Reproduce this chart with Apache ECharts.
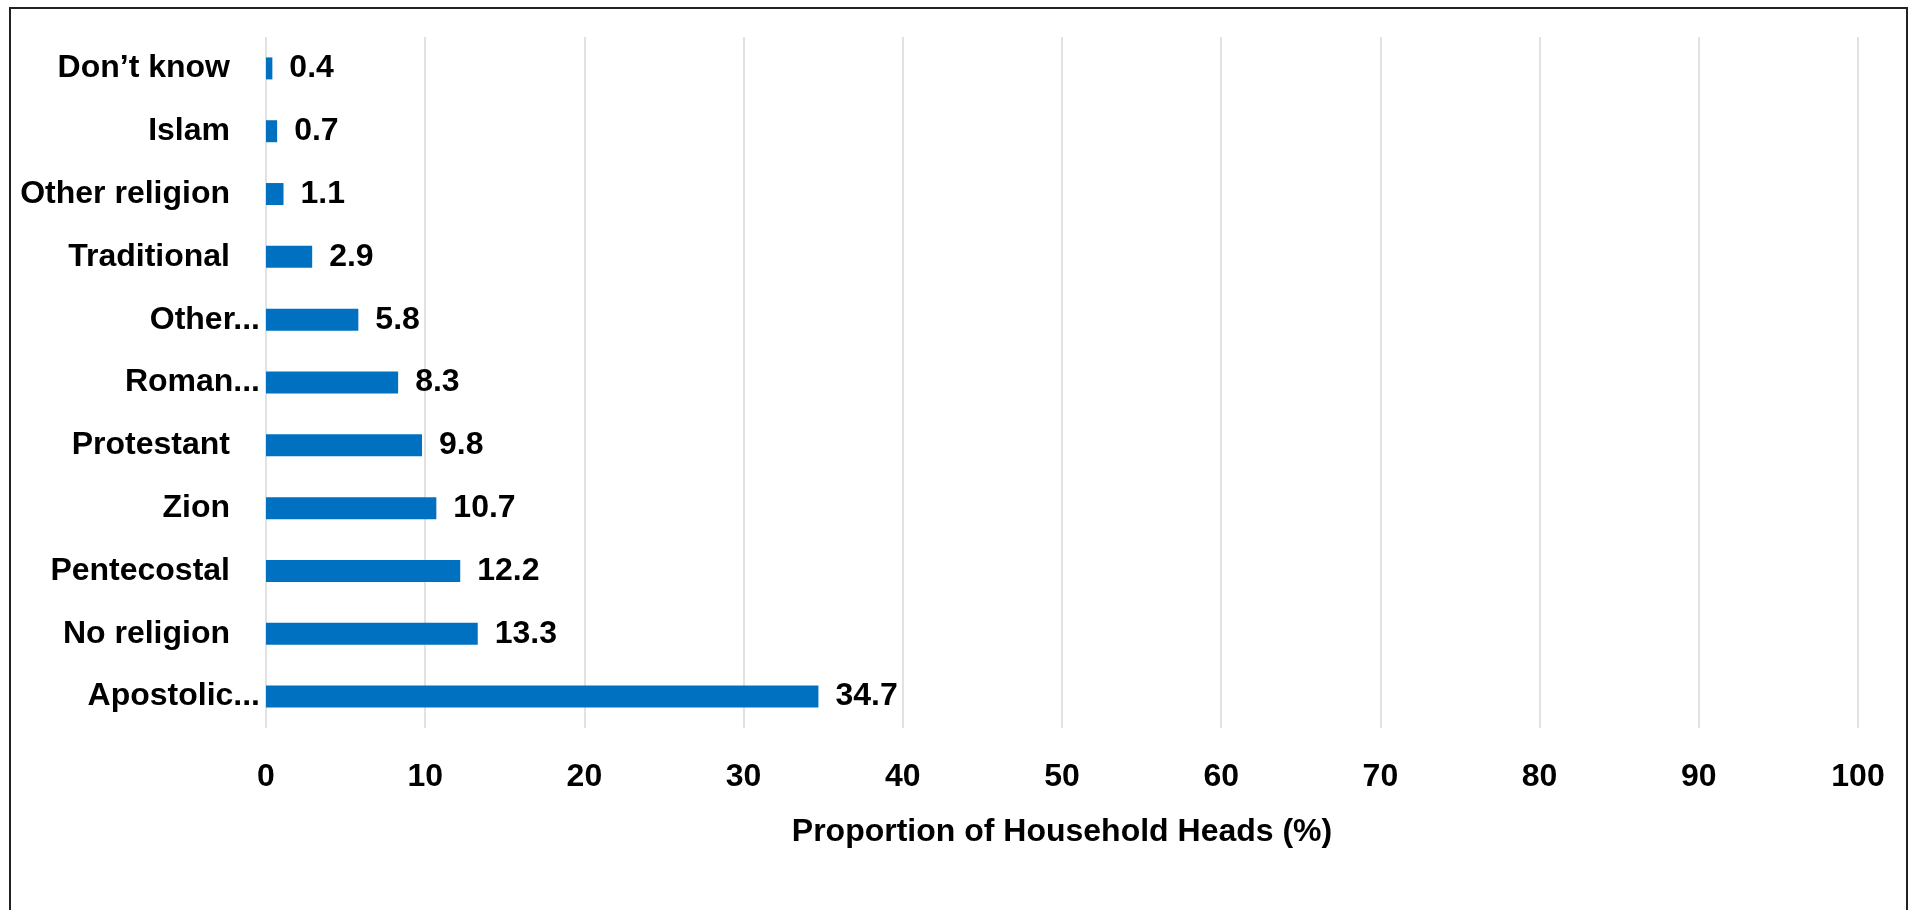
<!DOCTYPE html>
<html>
<head>
<meta charset="utf-8">
<title>Religion of Household Heads</title>
<script src="https://cdn.jsdelivr.net/npm/echarts@6/dist/echarts.min.js"></script>
<style>
  html, body { margin: 0; padding: 0; background: #ffffff; }
  #chart { width: 1915px; height: 910px; }
</style>
</head>
<body>
<div id="chart"></div>
<script>
// Religion of household heads, listed from the bottom bar upward
const categories = [
  'Apostolic...', 'No religion', 'Pentecostal', 'Zion', 'Protestant',
  'Roman...', 'Other...', 'Traditional', 'Other religion', 'Islam', 'Don\u2019t know'
];
const shares = [34.7, 13.3, 12.2, 10.7, 9.8, 8.3, 5.8, 2.9, 1.1, 0.7, 0.4];
const xTicks = [0, 10, 20, 30, 40, 50, 60, 70, 80, 90, 100];

const FONT = '"Liberation Sans", Arial, sans-serif';

const chart = echarts.init(document.getElementById('chart'), null, { renderer: 'canvas' });

chart.setOption({
  backgroundColor: '#ffffff',
  animation: false,
  graphic: [{
    type: 'rect',
    shape: { x: 10, y: 8, width: 1897, height: 1000 },
    style: { fill: 'none', stroke: '#222222', lineWidth: 2 },
    silent: true,
    z: 10
  }],
  grid: { left: 266, right: 57, top: 37, bottom: 182, containLabel: false },
  xAxis: {
    type: 'value',
    min: xTicks[0],
    max: xTicks[xTicks.length - 1],
    interval: 10,
    name: 'Proportion of Household Heads (%)',
    nameLocation: 'middle',
    nameGap: 88,
    nameTextStyle: { fontFamily: FONT, fontWeight: 'bold', fontSize: 32, color: '#000' },
    axisLine: { show: false },
    axisTick: { show: false },
    axisLabel: { fontFamily: FONT, fontWeight: 'bold', fontSize: 32, color: '#000', margin: 33 },
    splitLine: { show: true, lineStyle: { color: '#d9d9d9', width: 1.5 } }
  },
  yAxis: {
    type: 'category',
    data: categories,
    axisLine: { show: false },
    axisTick: { show: false },
    splitLine: { show: false },
    axisLabel: {
      margin: 6,
      formatter: function (v) {
        return v.endsWith('...') ? '{t|' + v + '}' : '{n|' + v + '}';
      },
      rich: {
        t: { fontFamily: FONT, fontWeight: 'bold', fontSize: 32, color: '#000' },
        n: { fontFamily: FONT, fontWeight: 'bold', fontSize: 32, color: '#000', padding: [0, 30, 0, 0] }
      }
    }
  },
  series: [{
    type: 'bar',
    data: shares,
    barWidth: 22,
    itemStyle: { color: '#0070C0' },
    label: {
      show: true,
      position: 'right',
      distance: 17,
      fontFamily: FONT,
      fontWeight: 'bold',
      fontSize: 32,
      color: '#000',
      formatter: function (p) { return p.value.toFixed(1); }
    }
  }]
});
</script>
</body>
</html>
